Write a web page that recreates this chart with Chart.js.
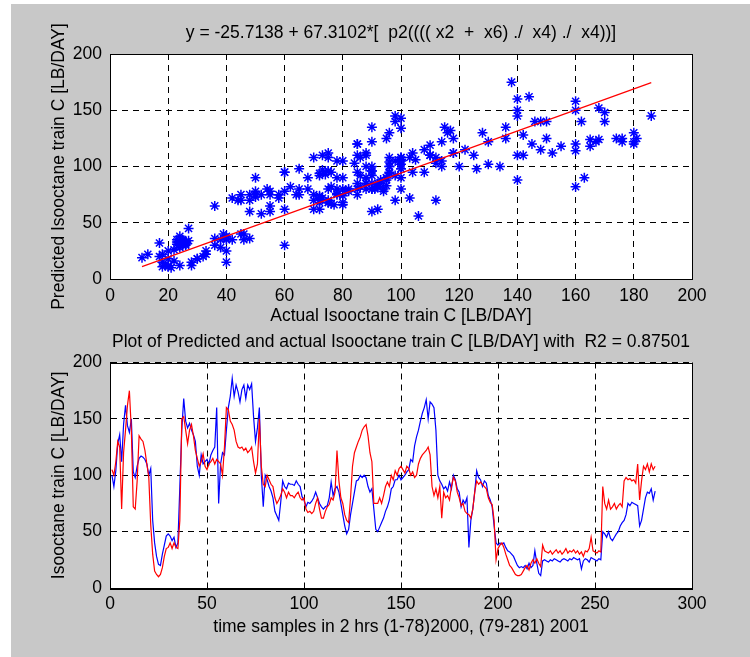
<!DOCTYPE html>
<html>
<head>
<meta charset="utf-8">
<script src="https://cdn.jsdelivr.net/npm/chart.js@4.4.1/dist/chart.umd.min.js"></script>
<style>
  html, body { margin: 0; padding: 0; background: #ffffff; width: 750px; height: 657px; overflow: hidden; }
  #figure { position: absolute; left: 11px; top: 4px; width: 739px; height: 653px; background: #c8c8c8; }
  canvas { position: absolute; left: 0; }
</style>
</head>
<body>
<div id="figure"></div>
<canvas id="scatterCanvas" width="750" height="330" style="top:0px"></canvas>
<canvas id="seriesCanvas" width="750" height="327" style="top:330px"></canvas>
<script>
// Isooctane train C [LB/DAY], one value per 2-hour sample (1-78: 2000, 79-281: 2001)
const actual = [
  100, 90, 104, 128, 136, 112, 145, 162, 144, 138,
  150, 103, 98, 108, 115, 117, 116, 114, 110, 100,
  106, 60, 40, 28, 21, 20, 30, 38, 46, 48,
  46, 42, 45, 36, 40, 90, 140, 168, 148, 142,
  146, 140, 136, 130, 108, 100, 118, 110, 112, 114,
  110, 118, 122, 125, 160, 75, 110, 120, 118, 140,
  160, 170, 186, 170, 180, 174, 165, 176, 180, 168,
  180, 176, 181, 152, 130, 142, 160, 100, 72, 100,
  96, 90, 86, 80, 68, 64, 60, 76, 95, 90,
  88, 93, 92, 92, 91, 95, 92, 90, 81, 78,
  72, 76, 75, 77, 80, 85, 80, 75, 72, 70,
  72, 73, 80, 94, 82, 88, 90, 85, 75, 65,
  55, 48, 52, 65, 75, 85, 95, 96, 100, 98,
  100, 98, 90, 85, 88, 70, 52, 50, 54, 58,
  62, 68, 72, 78, 88, 90, 96, 96, 100, 96,
  98, 100, 103, 105, 114, 112, 126, 134, 140, 148,
  155, 160, 167, 150, 165, 163, 160, 140, 100, 95,
  92, 88, 90, 86, 94, 88, 100, 96, 88, 85,
  72, 78, 75, 80, 36, 60, 70, 85, 104, 98,
  96, 90, 95, 93, 82, 78, 72, 55, 40, 38,
  40, 39, 40, 36, 33, 32, 30, 28, 24, 20,
  18, 19, 18, 20, 17, 22, 18, 20, 33, 22,
  13, 11, 24, 25, 24, 23, 25, 24, 26, 25,
  24, 23, 25, 26, 25, 24, 26, 25, 27, 26,
  25, 26, 17, 24, 26, 25, 23, 27, 26, 25,
  24, 26, 25, 50, 48, 45, 50, 44, 42, 45,
  48, 50, 55, 58, 60, 65, 75, 73, 76, 75,
  74, 73, 55, 60, 70, 80, 85, 84, 88, 78, 86
];

// Model output y = -25.7138 + 67.3102*[p2((((x2 + x6)./x4)./x4))] for the same samples
const predicted = [
  105, 100, 112, 130, 125, 70, 120, 140, 162, 175,
  140, 72, 70, 95, 135, 132, 130, 122, 110, 98,
  56, 30, 15, 12, 10, 12, 18, 28, 35, 36,
  40, 35, 40, 36, 35, 60, 150, 152, 140, 128,
  140, 145, 135, 122, 115, 108, 112, 119, 108, 105,
  110, 112, 115, 110, 114, 112, 110, 100, 125, 160,
  158, 148, 145, 140, 130, 125, 124, 125, 122, 124,
  120, 122, 125, 112, 102, 110, 150, 108, 92, 90,
  100, 96, 92, 90, 80, 75, 78, 82, 88, 85,
  80, 85, 82, 82, 80, 83, 85, 80, 78, 80,
  70, 67, 68, 66, 68, 75, 80, 70, 62, 62,
  68, 72, 74, 80, 78, 85, 122, 95, 80, 75,
  65, 60, 58, 80, 108, 120, 125, 130, 134, 140,
  143, 145, 135, 120, 112, 75, 75, 75, 80, 75,
  82, 90, 94, 90, 100, 96, 104, 100, 106, 108,
  105, 102, 108, 106, 100, 103, 98, 100, 110, 115,
  118, 120, 122, 125, 118, 90, 82, 88, 80, 90,
  62, 85, 80, 82, 78, 90, 98, 95, 85, 80,
  73, 75, 68, 66, 65, 62, 70, 85, 95, 92,
  94, 92, 90, 88, 80, 76, 74, 60, 25, 35,
  38, 40, 36, 30, 25, 20, 18, 15, 12, 11,
  11, 12, 15, 18, 20, 16, 22, 25, 22, 26,
  22, 19, 38, 33, 32, 31, 33, 30, 32, 34,
  31, 33, 30, 32, 35, 31, 33, 32, 34, 31,
  33, 30, 32, 28, 33, 32, 35, 45, 33, 32,
  31, 33, 32, 90, 75, 70, 78, 70, 72, 75,
  70, 73, 75, 72, 95, 98, 96, 97, 95, 96,
  93, 110, 78, 95, 108, 105, 110, 103, 110, 105, 108
];

// End points of the straight-line fit through the scatter
const fitActual = [11, 186];
const fitPredicted = [11, 174.5];

// Axis tick settings
const scatterTickStep = 20;
const predTickStep = 50;
const timeTickStep = 50;

const R2 = '0.87501';
const modelTitle = 'y = -25.7138 + 67.3102*[  p2(((( x2  +  x6) ./  x4) ./  x4))]';
const seriesTitle = 'Plot of Predicted and actual Isooctane train C [LB/DAY] with  R2 = ' + R2;

const FONT = "'Liberation Sans', Arial, Helvetica, sans-serif";
const FONT_SIZE = 17.5;
Chart.defaults.font.family = FONT;
Chart.defaults.font.size = FONT_SIZE;
Chart.defaults.color = '#000000';

// White axes background and a closed black box round the plot area
const axesFrame = {
  id: 'axesFrame',
  beforeDraw(chart) {
    const { ctx, chartArea: a } = chart;
    ctx.save();
    ctx.fillStyle = '#ffffff';
    ctx.fillRect(a.left, a.top, a.right - a.left, a.bottom - a.top);
    ctx.restore();
  },
  afterDraw(chart) {
    const { ctx, chartArea: a } = chart;
    ctx.save();
    ctx.strokeStyle = '#000000';
    ctx.lineWidth = 1;
    ctx.setLineDash([]);
    ctx.strokeRect(Math.round(a.left) + 0.5, Math.round(a.top) + 0.5,
                   Math.round(a.right - a.left), Math.round(a.bottom - a.top));
    ctx.restore();
  }
};

function axis(min, max, step, label, opts) {
  return {
    type: 'linear',
    min, max,
    ticks: { stepSize: step, color: '#000', padding: opts.tickPad, maxRotation: 0, autoSkip: false,
             font: { size: FONT_SIZE } },
    grid: { color: '#000', lineWidth: 1, drawTicks: false },
    border: { display: true, color: '#000', width: 1, dash: [6, 5] },
    title: { display: true, text: label, color: '#000', font: { size: FONT_SIZE }, padding: opts.titlePad },
    afterFit(scale) {
      if (opts.width !== undefined) scale.width = opts.width;
      if (opts.height !== undefined) scale.height = opts.height;
    }
  };
}

const scatterPoints = actual.map((a, i) => ({ x: a, y: predicted[i] }));
const fitLine = fitActual.map((a, i) => ({ x: a, y: fitPredicted[i] }));

new Chart(document.getElementById('scatterCanvas'), {
  type: 'scatter',
  data: {
    datasets: [
      { type: 'scatter', data: fitLine, showLine: true, borderColor: '#ff0000', borderWidth: 1.2,
        pointRadius: 0, fill: false },
      { type: 'scatter', data: scatterPoints, pointStyle: 'star', pointRadius: 5,
        borderColor: '#0000ff', backgroundColor: '#0000ff', borderWidth: 1.5, showLine: false }
    ]
  },
  options: {
    responsive: false, animation: false, devicePixelRatio: 1,
    layout: { padding: { left: 0, right: 58, top: 0, bottom: 0 } },
    plugins: {
      legend: { display: false }, tooltip: { enabled: false },
      title: { display: true, text: modelTitle, fullSize: false, color: '#000',
               font: { size: FONT_SIZE, weight: 'normal' }, padding: { top: 22.5, bottom: 10.5 } }
    },
    scales: {
      x: axis(0, 200, scatterTickStep, 'Actual Isooctane train C [LB/DAY]',
              { tickPad: 7, titlePad: { top: 0, bottom: 3 }, height: 51 }),
      y: axis(0, 200, predTickStep, 'Predicted Isooctane train C [LB/DAY]',
              { tickPad: 8, titlePad: { top: 49, bottom: 0 }, width: 110 })
    }
  },
  plugins: [axesFrame]
});

const sampleNo = actual.map((_, i) => i + 1);
const actualSeries = actual.map((v, i) => ({ x: sampleNo[i], y: v }));
const predictedSeries = predicted.map((v, i) => ({ x: sampleNo[i], y: v }));

new Chart(document.getElementById('seriesCanvas'), {
  type: 'scatter',
  data: {
    datasets: [
      { data: predictedSeries, showLine: true, borderColor: '#ff0000', borderWidth: 1.2,
        pointRadius: 0, fill: false, tension: 0 },
      { data: actualSeries, showLine: true, borderColor: '#0000ff', borderWidth: 1.2,
        pointRadius: 0, fill: false, tension: 0 }
    ]
  },
  options: {
    responsive: false, animation: false, devicePixelRatio: 1,
    layout: { padding: { left: 0, right: 58, top: 0, bottom: 0 } },
    plugins: {
      legend: { display: false }, tooltip: { enabled: false },
      title: { display: true, text: seriesTitle, fullSize: false, color: '#000',
               font: { size: FONT_SIZE, weight: 'normal' }, padding: { top: 1.5, bottom: 10 } }
    },
    scales: {
      x: axis(0, 300, timeTickStep, 'time samples in 2 hrs (1-78)2000, (79-281) 2001',
              { tickPad: 6, titlePad: { top: 0, bottom: 19 }, height: 69 }),
      y: axis(0, 200, predTickStep, 'Isooctane train C [LB/DAY]',
              { tickPad: 8, titlePad: { top: 49, bottom: 0 }, width: 110 })
    }
  },
  plugins: [axesFrame]
});
</script>
</body>
</html>
